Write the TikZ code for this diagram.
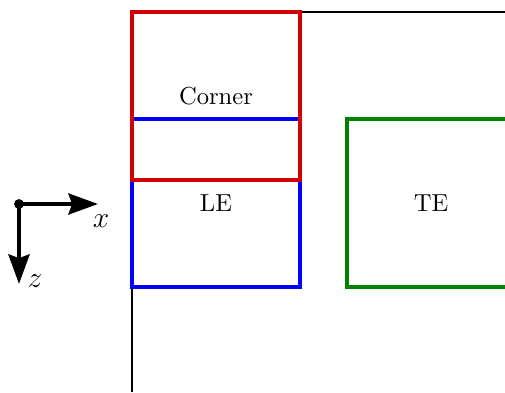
\documentclass[tikz,border=0pt]{standalone}
\usetikzlibrary{arrows.meta}
\definecolor{boxred}{RGB}{210,0,0}
\definecolor{boxblue}{RGB}{0,0,255}
\definecolor{boxgreen}{RGB}{0,130,0}
\begin{document}
\begin{tikzpicture}[x=0.4065pt,y=-0.4065pt,
  region/.style={draw, line width=1.3pt, minimum width=68.3pt, minimum height=68.3pt, inner sep=0pt},
  axis/.style={line width=1.75pt, -{Stealth[length=12pt,width=8.5pt,inset=1.5pt]}},
  axlabel/.style={font=\large, inner sep=0pt}]
\useasboundingbox (0,0) rectangle (505,392);
\clip (0,0) rectangle (505,392);
% frame
\coordinate (fb) at (132,392);
\coordinate (fc) at (132,12);
\coordinate (fr) at (520,12);
\draw[line width=0.5pt] (fb) -- (fc) -- (fr);
% regions
\node[region, draw=boxblue] (le) at (216,203) {LE};
\node[region, draw=boxred] (corner) at (216,96) {Corner};
\node[region, draw=boxgreen] (te) at (431,203) {TE};
% axes
\coordinate (o) at (19,204);
\coordinate (xe) at (98,204);
\coordinate (ze) at (19,284);
\draw[axis] (o) -- (xe);
\draw[axis] (o) -- (ze);
\fill (o) circle (2pt);
\node[axlabel] (xl) at (101,221) {$x$};
\node[axlabel] (zl) at (35,281) {$z$};
\end{tikzpicture}
\end{document}
